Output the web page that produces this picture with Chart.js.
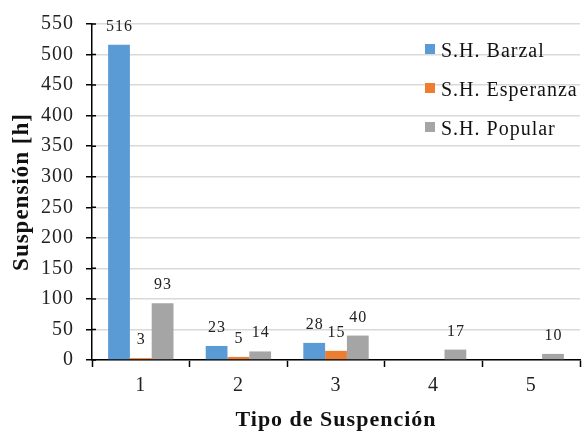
<!DOCTYPE html>
<html>
<head>
<meta charset="utf-8">
<script src="https://cdn.jsdelivr.net/npm/chart.js@4"></script>
<style>
  html, body { margin: 0; padding: 0; background: #fff; }
  #wrap { width: 587px; height: 434px; }
</style>
</head>
<body>
<div id="wrap"><canvas id="myChart"></canvas></div>
<script>
const categories = ["1", "2", "3", "4", "5"];
const barzal = [516, 23, 28, 0, 0];
const esperanza = [3, 5, 15, 0, 0];
const popular = [93, 14, 40, 17, 10];
const yTicks = [0, 50, 100, 150, 200, 250, 300, 350, 400, 450, 500, 550];

const SERIF = "'Liberation Serif', 'Times New Roman', serif";

// the reference type is a bit wider than Liberation Serif, so space the letters out a little
const wideText = {
  id: "wideText",
  beforeLayout(chart) {
    chart.ctx.letterSpacing = "1px";
  },
  beforeDraw(chart) {
    chart.ctx.letterSpacing = "1px";
  },
};

// value labels above each bar
const barLabels = {
  id: "barLabels",
  afterDatasetsDraw(chart) {
    const ctx = chart.ctx;
    ctx.save();
    ctx.font = "16px " + SERIF;
    ctx.fillStyle = "#222";
    ctx.textAlign = "center";
    ctx.textBaseline = "alphabetic";
    chart.data.datasets.forEach((ds, i) => {
      chart.getDatasetMeta(i).data.forEach((bar, j) => {
        const v = ds.data[j];
        if (!v) return;
        ctx.fillText(String(v), bar.x + 0.5, bar.y - 14);
      });
    });
    ctx.restore();
  },
};

// small y tick marks that cross into the plot area
const innerTicks = {
  id: "innerTicks",
  afterDraw(chart) {
    const ctx = chart.ctx;
    const y = chart.scales.y;
    ctx.save();
    ctx.strokeStyle = "#000";
    ctx.lineWidth = 1.5;
    ctx.beginPath();
    y.ticks.forEach((t) => {
      const py = y.getPixelForValue(t.value);
      ctx.moveTo(y.right, py);
      ctx.lineTo(y.right + 4, py);
    });
    ctx.stroke();
    ctx.restore();
  },
};

// legend drawn inside the plot area, top right
const insideLegend = {
  id: "insideLegend",
  afterDatasetsDraw(chart) {
    const ctx = chart.ctx;
    ctx.save();
    ctx.font = "20px " + SERIF;
    ctx.textBaseline = "alphabetic";
    ctx.textAlign = "left";
    chart.data.datasets.forEach((ds, i) => {
      const base = 57 + i * 39;
      ctx.fillStyle = ds.backgroundColor;
      ctx.fillRect(425, base - 13, 10, 10);
      ctx.fillStyle = "#111";
      ctx.fillText(ds.label, 441, base);
    });
    ctx.restore();
  },
};

let chart = document.getElementById("myChart").getContext("2d");

let barChart = new Chart(chart, {
  type: "bar",
  data: {
    labels: categories,
    datasets: [
      { label: "S.H. Barzal", data: barzal, backgroundColor: "#5B9BD5" },
      { label: "S.H. Esperanza", data: esperanza, backgroundColor: "#ED7D31" },
      { label: "S.H. Popular", data: popular, backgroundColor: "#A5A5A5" },
    ],
  },
  options: {
    responsive: true,
    maintainAspectRatio: false,
    animation: false,
    layout: { padding: { left: 8, right: 7, top: 21, bottom: 0 } },
    datasets: {
      bar: { categoryPercentage: 0.67, barPercentage: 1.0 },
    },
    plugins: {
      legend: { display: false },
      tooltip: { enabled: false },
    },
    scales: {
      x: {
        grid: {
          offset: true,
          drawOnChartArea: false,
          drawTicks: true,
          tickLength: 7,
          tickColor: "#000",
          tickWidth: 1.5,
        },
        border: { color: "#000", width: 1.5 },
        ticks: {
          color: "#222",
          font: { family: SERIF, size: 20 },
          padding: 7,
        },
        title: {
          display: true,
          text: "Tipo de Suspención",
          color: "#111",
          font: { family: SERIF, size: 22, weight: "bold" },
          padding: { top: 0, bottom: 0 },
        },
        afterFit(scale) {
          scale.height = 74;
        },
      },
      y: {
        min: 0,
        max: 550,
        afterBuildTicks(scale) {
          scale.ticks = yTicks.map((v) => ({ value: v }));
        },
        grid: {
          color: "#d9d9d9",
          lineWidth: 1.5,
          tickLength: 6,
          tickColor: "#000",
          tickWidth: 1.5,
        },
        border: { color: "#000", width: 1.5 },
        ticks: {
          color: "#222",
          font: { family: SERIF, size: 20 },
          padding: 12,
        },
        title: {
          display: true,
          text: "Suspensión [h]",
          color: "#111",
          font: { family: SERIF, size: 23, weight: "bold" },
          padding: { top: 0, bottom: 0 },
        },
        afterFit(scale) {
          scale.width = 84;
        },
      },
    },
  },
  plugins: [wideText, barLabels, innerTicks, insideLegend],
});
</script>
</body>
</html>
